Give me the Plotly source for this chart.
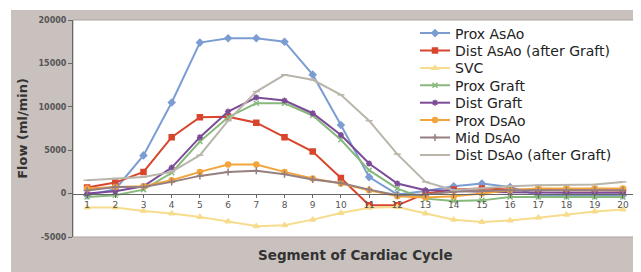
import plotly.graph_objects as go

segments = list(range(1, 21))
series_names = ["Prox AsAo", "Dist AsAo (after Graft)", "SVC", "Prox Graft",
                "Dist Graft", "Prox DsAo", "Mid DsAo", "Dist DsAo (after Graft)"]

prox_asao = [-200, 500, 4400, 10500, 17400, 17900, 17900, 17500, 13700, 7900,
             1900, -100, 300, 850, 1150, 760, -200, -200, -200, -200]
dist_asao = [700, 1270, 2500, 6500, 8800, 8850, 8170, 6500, 4850, 1800,
             -1350, -1350, 0, 460, 580, 460, 400, 400, 400, 350]
svc = [-1600, -1600, -2000, -2300, -2700, -3200, -3750, -3650, -3000, -2240,
       -1620, -1550, -2300, -3000, -3280, -3100, -2780, -2430, -2050, -1820]
prox_graft = [-400, -200, 460, 2400, 6000, 8800, 10400, 10400, 9000, 6200,
              2700, 580, -580, -850, -780, -390, -400, -400, -400, -400]
dist_graft = [0, 270, 850, 3000, 6500, 9450, 11070, 10720, 9260, 6750,
              3470, 1160, 380, 350, 200, 150, 100, 100, 100, 100]
prox_dsao = [600, 770, 850, 1540, 2500, 3350, 3350, 2500, 1740, 1160,
             380, -310, -450, -310, 0, 380, 580, 600, 600, 600]
mid_dsao = [350, 770, 770, 1350, 2040, 2500, 2620, 2230, 1620, 1230,
            460, -200, -100, 200, 300, 400, 400, 400, 400, 400]
dist_dsao = [1540, 1740, 1920, 2500, 4430, 8400, 11760, 13690, 13110, 11380,
             8400, 4550, 1350, 380, 580, 850, 960, 960, 1040, 1350]

y_ticks = [-5000, 0, 5000, 10000, 15000, 20000]

values = [prox_asao, dist_asao, svc, prox_graft, dist_graft, prox_dsao, mid_dsao, dist_dsao]
colors = ["#7c9dd2", "#d8452c", "#f6dc8c", "#88b97c", "#7b4b97", "#f2a53c", "#957f80", "#bab5aa"]
symbols = ["diamond", "square", "triangle-up", "x-thin-open", "asterisk-open", "circle", "cross-thin-open", "line-ew-open"]

# page body has an 8px margin: figure origin sits at (8, 8) of the window
OFF = 8
W, H = 641 - OFF, 272 - OFF
L, R, T, B = 73 - OFF, 4, 20 - OFF, 35
pw, ph = W - L - R, H - T - B

def px(x):
    return (x - OFF - L) / pw

def py(y):
    return (H - B - (y - OFF)) / ph

fig = go.Figure()
legends = {}
for i, (name, vals, col, sym) in enumerate(zip(series_names, values, colors, symbols)):
    key = "legend" if i == 0 else f"legend{i + 1}"
    fig.add_trace(go.Scatter(
        x=segments, y=vals, name=name, mode="lines+markers",
        line=dict(color=col, width=2),
        marker=dict(symbol=sym, size=5, color=col, line=dict(color=col, width=1.5)),
        legend=key,
    ))
    legends[key] = dict(x=px(415), y=py(33.5 + i * 17.4), xanchor="left", yanchor="middle",
                        bgcolor="rgba(0,0,0,0)", font=dict(size=14, color="#222"),
                        itemwidth=30, borderwidth=0)

fig.update_layout(
    width=W, height=H,
    margin=dict(l=L, r=R, t=T, b=B),
    paper_bgcolor="#c9c1be",
    plot_bgcolor="white",
    font=dict(family="DejaVu Sans, Verdana, sans-serif", color="#333"),
    showlegend=True,
    xaxis=dict(
        range=[0.5, 20.5], tickmode="array", tickvals=segments,
        ticktext=[str(s) for s in segments],
        anchor="free", position=0.2, automargin=False,
        showline=True, linecolor="#666", linewidth=1,
        ticks="outside", ticklen=3, tickcolor="#666",
        showgrid=False, zeroline=False,
        tickfont=dict(size=9, color="#555", family="DejaVu Sans, Verdana, sans-serif"),
    ),
    yaxis=dict(
        range=[-5000, 20000], tickmode="array", tickvals=y_ticks,
        ticktext=[f"<b>{v}</b>" for v in y_ticks], automargin=False,
        showline=True, linecolor="#666", linewidth=1,
        ticks="outside", ticklen=4, tickcolor="#666",
        showgrid=False, zeroline=False,
        tickfont=dict(size=8, color="#555", family="DejaVu Sans, Verdana, sans-serif"),
        title=dict(text="<b>Flow (ml/min)</b>", font=dict(size=13, color="#333"), standoff=8),
    ),
    shapes=[
        dict(type="rect", xref="paper", yref="paper", x0=0, x1=1, y0=0, y1=1,
             line=dict(color="#a9a3a0", width=1), fillcolor="rgba(0,0,0,0)", layer="below"),
        dict(type="rect", xref="paper", yref="paper", x0=px(0), x1=px(11), y0=py(272), y1=py(0),
             line=dict(width=0), fillcolor="white", layer="below"),
        dict(type="rect", xref="paper", yref="paper", x0=px(0), x1=px(641), y0=py(10), y1=py(0),
             line=dict(width=0), fillcolor="white", layer="below"),
    ],
    annotations=[
        dict(text="<b>Segment of Cardiac Cycle</b>", xref="paper", yref="paper",
             x=0.5, y=py(255), xanchor="center", yanchor="middle", showarrow=False,
             font=dict(size=13.5, color="#333")),
    ],
    **legends,
)

fig.write_html("out.html")
